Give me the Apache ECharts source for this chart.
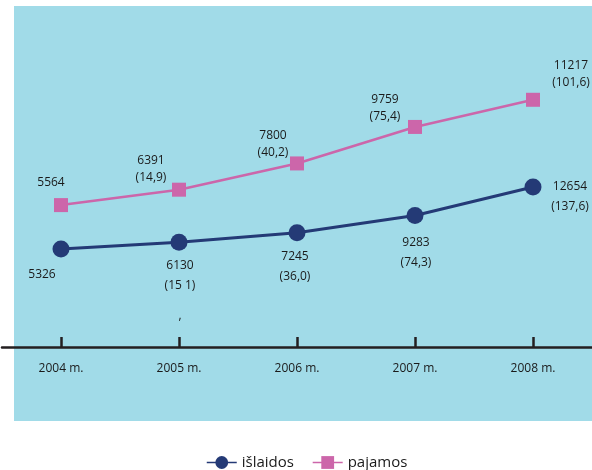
<!DOCTYPE html>
<html>
<head>
<meta charset="utf-8">
<script src="https://cdn.jsdelivr.net/npm/echarts@6/dist/echarts.min.js"></script>
<style>html,body{margin:0;padding:0;background:#fff}#c{width:592px;height:470px}</style>
</head>
<body>
<div id="c"></div>
<script>
var categories = ['2004 m.', '2005 m.', '2006 m.', '2007 m.', '2008 m.'];
var islaidos = [5326, 6130, 7245, 9283, 12654];
var islaidosGrowth = ['', '15 1', '36,0', '74,3', '137,6'];
var pajamos = [5564, 6391, 7800, 9759, 11217];
var pajamosGrowth = ['', '14,9', '40,2', '75,4', '101,6'];

var BLUE = '#243a76', PINK = '#cc66aa', TXT = '#1a1a1a';
var FONT = '"Open Sans", "Noto Sans", sans-serif';

var blueOffsets = [[-19, 26], [1, 53], [-2, 34], [1, 37], [37, 10]];
var pinkOffsets = [[-10, -23], [-28, -21], [-24, -19], [-30, -19], [38, -26]];

function labelText(v, g, i, extraComma) {
  var s = String(v);
  if (g) s += '\n(' + g + ')';
  if (extraComma) s += '\n{c|,}';
  return s;
}

var blueData = islaidos.map(function (v, i) {
  return {
    value: v,
    label: {
      show: true, position: 'inside', offset: blueOffsets[i],
      formatter: labelText(v, islaidosGrowth[i], i, i === 1),
      lineHeight: 20
    }
  };
});
var pinkData = pajamos.map(function (v, i) {
  return {
    value: v,
    label: {
      show: true, position: 'inside', offset: pinkOffsets[i],
      formatter: labelText(v, pajamosGrowth[i], i, false),
      lineHeight: 17
    }
  };
});

var chart = echarts.init(document.getElementById('c'), null, {renderer: 'canvas'});
chart.setOption({
  animation: false,
  backgroundColor: '#ffffff',
  graphic: [{
    type: 'rect', z: -10, silent: true,
    shape: {x: 14, y: 6, width: 578, height: 415},
    style: {fill: '#a1dbe8'}
  }],
  grid: {left: 2, right: -3, top: 0, bottom: 123, containLabel: false},
  xAxis: {
    type: 'category', data: categories, boundaryGap: true,
    axisLine: {show: true, onZero: false, lineStyle: {color: '#231f20', width: 2.5}},
    axisTick: {show: true, interval: 0, alignWithLabel: true, inside: true, length: 10,
      lineStyle: {color: '#231f20', width: 2.5}},
    axisLabel: {margin: 16, fontSize: 12, color: TXT, fontFamily: FONT},
    splitLine: {show: false}
  },
  yAxis: [
    {type: 'value', show: false, min: -6256, max: 34755, splitLine: {show: false}},
    {type: 'value', show: false, min: -2053, max: 16573, splitLine: {show: false}}
  ],
  legend: {
    data: ['išlaidos', 'pajamos'],
    left: 201, top: 450,
    itemWidth: 30, itemHeight: 16, itemGap: 18,
    lineStyle: {width: 1.5},
    textStyle: {fontSize: 15, color: TXT, fontFamily: FONT}
  },
  series: [
    {
      name: 'išlaidos', type: 'line', yAxisIndex: 0,
      data: blueData,
      symbol: 'circle', symbolSize: 17,
      lineStyle: {color: BLUE, width: 3},
      itemStyle: {color: BLUE},
      label: {fontSize: 12, color: TXT, fontFamily: FONT,
        rich: {c: {lineHeight: 40, fontSize: 12, color: TXT, fontFamily: FONT}}},
      z: 3
    },
    {
      name: 'pajamos', type: 'line', yAxisIndex: 1,
      data: pinkData,
      symbol: 'rect', symbolSize: 14,
      lineStyle: {color: PINK, width: 2.5},
      itemStyle: {color: PINK},
      label: {fontSize: 12, color: TXT, fontFamily: FONT},
      z: 3
    }
  ]
});
</script>
</body>
</html>
